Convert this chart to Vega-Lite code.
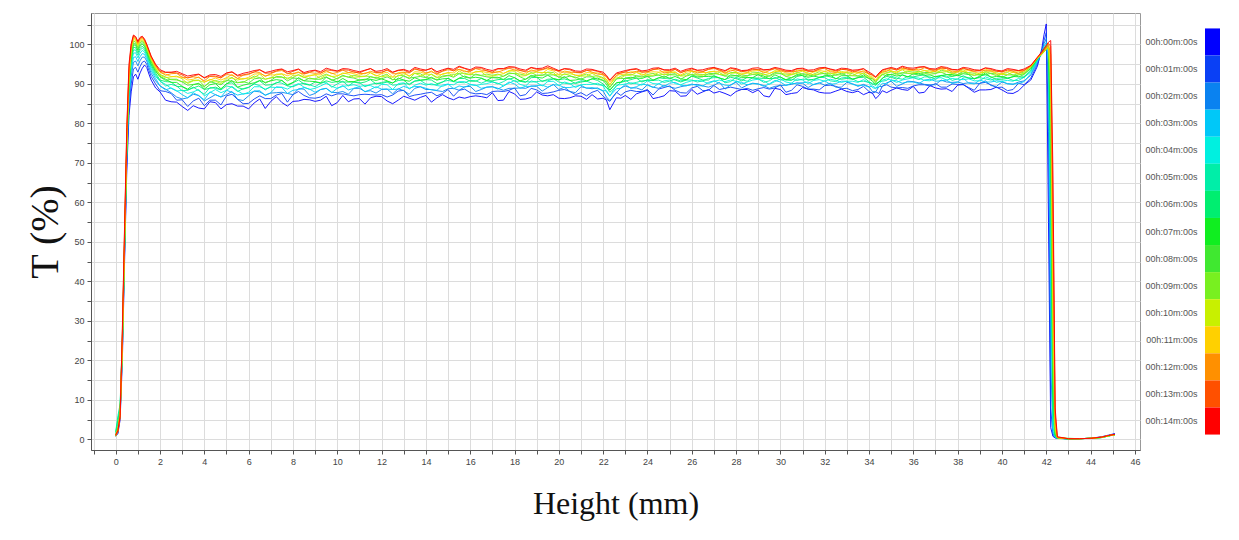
{
"$schema": "https://vega.github.io/schema/vega-lite/v6.json",
"background": "white",
"padding": {"left": 24, "top": 12, "right": 5, "bottom": 5},
"spacing": 3,
"config": {
  "view": {"stroke": "#999999", "strokeWidth": 1},
  "axis": {"labelFont": "Liberation Sans", "labelFontSize": 9, "labelColor": "#444444", "tickColor": "#555555", "domainColor": "#555555", "gridColor": "#dcdcdc", "titleFont": "Liberation Serif", "titleFontWeight": "normal", "titleColor": "#111111"}
},
"datasets": {
"curves": [
{"x":0,"t0":0.8,"t1":1.0,"t2":1.2,"t3":0.9,"t4":1.5,"t5":2.0,"t6":1.8,"t7":1.2,"t8":1.0,"t9":0.8,"t10":1.1,"t11":1.3,"t12":0.9,"t13":1.0,"t14":1.2},
{"x":0.1,"t0":1.5,"t1":1.8,"t2":2.2,"t3":2.5,"t4":4.0,"t5":6.0,"t6":5.0,"t7":3.0,"t8":2.4,"t9":2.0,"t10":2.5,"t11":2.8,"t12":2.2,"t13":2.0,"t14":2.3},
{"x":0.2,"t0":5,"t1":6,"t2":6.5,"t3":7,"t4":8,"t5":9,"t6":8.5,"t7":7.5,"t8":6.5,"t9":6,"t10":6.5,"t11":7,"t12":6,"t13":5.5,"t14":6},
{"x":0.3,"t0":20,"t1":22,"t2":23,"t3":24,"t4":25,"t5":26,"t6":25,"t7":24,"t8":23,"t9":22,"t10":24,"t11":25,"t12":26,"t13":27,"t14":28},
{"x":0.4,"t0":45,"t1":47,"t2":48,"t3":49,"t4":50,"t5":51,"t6":50,"t7":49,"t8":48,"t9":48,"t10":50,"t11":51,"t12":52,"t13":53,"t14":54},
{"x":0.5,"t0":68,"t1":70,"t2":72,"t3":73,"t4":74,"t5":75,"t6":75,"t7":74,"t8":74,"t9":74,"t10":75,"t11":76,"t12":77,"t13":78,"t14":79},
{"x":0.6,"t0":82,"t1":84,"t2":86,"t3":87,"t4":88,"t5":89,"t6":89.5,"t7":90,"t8":90.5,"t9":91,"t10":91.5,"t11":92,"t12":93,"t13":94,"t14":95},
{"x":0.7,"t0":88.0,"t1":90.0,"t2":92.0,"t3":93.3,"t4":94.5,"t5":95.5,"t6":96.3,"t7":97.0,"t8":97.6,"t9":98.2,"t10":98.7,"t11":99.2,"t12":99.6,"t13":99.9,"t14":100.2},
{"x":0.8,"t0":91.8,"t1":93.8,"t2":95.5,"t3":96.7,"t4":97.8,"t5":98.6,"t6":99.3,"t7":99.9,"t8":100.4,"t9":100.9,"t10":101.3,"t11":101.7,"t12":102.0,"t13":102.2,"t14":102.4},
{"x":0.9,"t0":92.5,"t1":94.2,"t2":95.8,"t3":96.9,"t4":97.9,"t5":98.6,"t6":99.2,"t7":99.8,"t8":100.2,"t9":100.6,"t10":101.0,"t11":101.3,"t12":101.6,"t13":101.9,"t14":102.0},
{"x":1.0,"t0":91.2,"t1":93.0,"t2":94.6,"t3":95.7,"t4":96.6,"t5":97.3,"t6":97.9,"t7":98.5,"t8":98.9,"t9":99.3,"t10":99.7,"t11":100.0,"t12":100.3,"t13":100.6,"t14":100.8},
{"x":1.1,"t0":92.8,"t1":94.4,"t2":95.9,"t3":96.9,"t4":97.8,"t5":98.5,"t6":99.0,"t7":99.6,"t8":100.0,"t9":100.4,"t10":100.8,"t11":101.1,"t12":101.4,"t13":101.6,"t14":101.8},
{"x":1.2,"t0":94.0,"t1":95.5,"t2":96.8,"t3":97.7,"t4":98.5,"t5":99.1,"t6":99.6,"t7":100.1,"t8":100.5,"t9":100.9,"t10":101.2,"t11":101.5,"t12":101.7,"t13":101.9,"t14":102.1},
{"x":1.3,"t0":94.8,"t1":95.8,"t2":96.8,"t3":97.5,"t4":98.1,"t5":98.6,"t6":99.0,"t7":99.5,"t8":99.8,"t9":100.2,"t10":100.5,"t11":100.8,"t12":101.0,"t13":101.2,"t14":101.4},
{"x":1.4,"t0":94.2,"t1":95.0,"t2":95.8,"t3":96.4,"t4":96.9,"t5":97.4,"t6":97.8,"t7":98.2,"t8":98.6,"t9":98.9,"t10":99.2,"t11":99.5,"t12":99.7,"t13":99.9,"t14":100.1},
{"x":1.5,"t0":92.5,"t1":93.4,"t2":94.2,"t3":94.8,"t4":95.4,"t5":95.8,"t6":96.3,"t7":96.7,"t8":97.0,"t9":97.4,"t10":97.7,"t11":97.9,"t12":98.2,"t13":98.4,"t14":98.6},
{"x":1.6,"t0":91.0,"t1":91.9,"t2":92.7,"t3":93.4,"t4":93.9,"t5":94.4,"t6":94.8,"t7":95.2,"t8":95.6,"t9":95.9,"t10":96.2,"t11":96.5,"t12":96.7,"t13":96.9,"t14":97.1},
{"x":1.8,"t0":89.0,"t1":90.0,"t2":90.8,"t3":91.4,"t4":91.9,"t5":92.3,"t6":92.8,"t7":93.2,"t8":93.5,"t9":93.8,"t10":94.1,"t11":94.3,"t12":94.6,"t13":94.8,"t14":95.0},
{"x":2.0,"t0":88.0,"t1":88.3,"t2":89.5,"t3":89.5,"t4":90.7,"t5":90.8,"t6":91.0,"t7":91.9,"t8":91.8,"t9":92.4,"t10":92.2,"t11":92.9,"t12":93.1,"t13":93.2,"t14":93.6},
{"x":2.5,"t0":85.5,"t1":87.6,"t2":87.8,"t3":89.0,"t4":88.9,"t5":89.9,"t6":90.5,"t7":90.4,"t8":91.2,"t9":91.1,"t10":91.8,"t11":91.9,"t12":92.6,"t13":92.9,"t14":93.0},
{"x":3.0,"t0":84.3,"t1":86.0,"t2":86.2,"t3":87.3,"t4":88.4,"t5":88.3,"t6":89.3,"t7":89.4,"t8":90.5,"t9":90.6,"t10":91.3,"t11":91.7,"t12":91.7,"t13":92.3,"t14":92.6},
{"x":3.5,"t0":84.5,"t1":85.7,"t2":87.4,"t3":87.8,"t4":88.0,"t5":89.2,"t6":89.0,"t7":89.8,"t8":89.9,"t9":90.9,"t10":90.8,"t11":91.2,"t12":91.8,"t13":92.0,"t14":92.3},
{"x":4.0,"t0":83.7,"t1":84.5,"t2":85.7,"t3":86.0,"t4":87.0,"t5":87.4,"t6":88.6,"t7":88.7,"t8":89.3,"t9":89.4,"t10":90.4,"t11":90.5,"t12":90.8,"t13":91.5,"t14":91.6},
{"x":4.5,"t0":85.3,"t1":85.9,"t2":87.3,"t3":87.3,"t4":88.6,"t5":88.9,"t6":89.2,"t7":90.1,"t8":90.2,"t9":90.9,"t10":90.7,"t11":91.5,"t12":91.8,"t13":92.0,"t14":92.4},
{"x":5.0,"t0":84.8,"t1":87.0,"t2":87.3,"t3":88.4,"t4":88.4,"t5":89.5,"t6":90.1,"t7":90.0,"t8":90.9,"t9":90.8,"t10":91.5,"t11":91.6,"t12":92.4,"t13":92.7,"t14":92.8},
{"x":5.5,"t0":84.4,"t1":86.1,"t2":86.1,"t3":87.2,"t4":88.3,"t5":88.1,"t6":89.1,"t7":89.2,"t8":90.3,"t9":90.4,"t10":91.0,"t11":91.4,"t12":91.4,"t13":92.0,"t14":92.2},
{"x":6.0,"t0":83.7,"t1":85.1,"t2":87.0,"t3":87.6,"t4":87.9,"t5":89.2,"t6":89.1,"t7":90.0,"t8":90.2,"t9":91.2,"t10":91.3,"t11":91.7,"t12":92.4,"t13":92.6,"t14":93.0},
{"x":6.5,"t0":86.2,"t1":87.0,"t2":88.0,"t3":88.3,"t4":89.3,"t5":89.6,"t6":90.8,"t7":90.9,"t8":91.5,"t9":91.6,"t10":92.5,"t11":92.6,"t12":92.9,"t13":93.6,"t14":93.6},
{"x":7.0,"t0":85.6,"t1":86.3,"t2":87.7,"t3":87.8,"t4":89.2,"t5":89.4,"t6":89.8,"t7":90.8,"t8":90.9,"t9":91.6,"t10":91.5,"t11":92.3,"t12":92.6,"t13":92.8,"t14":93.2},
{"x":7.5,"t0":85.3,"t1":87.6,"t2":87.9,"t3":89.1,"t4":89.2,"t5":90.2,"t6":90.9,"t7":90.9,"t8":91.8,"t9":91.7,"t10":92.5,"t11":92.6,"t12":93.4,"t13":93.7,"t14":93.8},
{"x":8.0,"t0":85.6,"t1":87.3,"t2":87.3,"t3":88.4,"t4":89.5,"t5":89.3,"t6":90.3,"t7":90.4,"t8":91.5,"t9":91.6,"t10":92.2,"t11":92.6,"t12":92.6,"t13":93.2,"t14":93.4},
{"x":8.5,"t0":86.1,"t1":87.1,"t2":88.7,"t3":89.1,"t4":89.2,"t5":90.2,"t6":90.0,"t7":90.8,"t8":90.8,"t9":91.7,"t10":91.6,"t11":92.0,"t12":92.5,"t13":92.6,"t14":92.9},
{"x":9.0,"t0":85.6,"t1":86.4,"t2":87.6,"t3":87.9,"t4":88.9,"t5":89.3,"t6":90.5,"t7":90.6,"t8":91.2,"t9":91.3,"t10":92.3,"t11":92.4,"t12":92.7,"t13":93.4,"t14":93.5},
{"x":9.5,"t0":86.9,"t1":87.5,"t2":88.9,"t3":88.9,"t4":90.2,"t5":90.5,"t6":90.8,"t7":91.7,"t8":91.8,"t9":92.5,"t10":92.3,"t11":93.1,"t12":93.4,"t13":93.6,"t14":94.0},
{"x":10.0,"t0":85.3,"t1":87.5,"t2":87.8,"t3":88.9,"t4":88.9,"t5":90.0,"t6":90.6,"t7":90.5,"t8":91.4,"t9":91.3,"t10":92.0,"t11":92.1,"t12":92.9,"t13":93.2,"t14":93.3},
{"x":10.5,"t0":85.5,"t1":87.2,"t2":87.4,"t3":88.5,"t4":89.6,"t5":89.5,"t6":90.5,"t7":90.6,"t8":91.7,"t9":91.8,"t10":92.5,"t11":92.9,"t12":92.9,"t13":93.5,"t14":93.8},
{"x":11.0,"t0":86.3,"t1":87.3,"t2":88.9,"t3":89.3,"t4":89.4,"t5":90.4,"t6":90.2,"t7":91.0,"t8":91.0,"t9":91.9,"t10":91.8,"t11":92.2,"t12":92.7,"t13":92.8,"t14":93.1},
{"x":11.5,"t0":86.5,"t1":87.3,"t2":88.3,"t3":88.6,"t4":89.6,"t5":89.9,"t6":91.1,"t7":91.2,"t8":91.8,"t9":91.9,"t10":92.8,"t11":92.9,"t12":93.2,"t13":93.9,"t14":93.9},
{"x":12.0,"t0":86.8,"t1":87.3,"t2":88.6,"t3":88.7,"t4":89.9,"t5":90.1,"t6":90.4,"t7":91.3,"t8":91.3,"t9":92.0,"t10":91.8,"t11":92.6,"t12":92.8,"t13":93.0,"t14":93.4},
{"x":12.5,"t0":85.0,"t1":87.2,"t2":87.5,"t3":88.6,"t4":88.6,"t5":89.7,"t6":90.3,"t7":90.2,"t8":91.1,"t9":91.0,"t10":91.7,"t11":91.8,"t12":92.6,"t13":92.9,"t14":93.0},
{"x":13.0,"t0":86.9,"t1":88.4,"t2":88.3,"t3":89.4,"t4":90.3,"t5":90.1,"t6":91.0,"t7":91.0,"t8":92.0,"t9":92.1,"t10":92.6,"t11":93.0,"t12":92.9,"t13":93.5,"t14":93.7},
{"x":13.5,"t0":85.9,"t1":87.2,"t2":88.9,"t3":89.4,"t4":89.7,"t5":90.8,"t6":90.7,"t7":91.6,"t8":91.7,"t9":92.7,"t10":92.7,"t11":93.1,"t12":93.7,"t13":93.9,"t14":94.2},
{"x":14.0,"t0":87.1,"t1":87.7,"t2":88.6,"t3":88.9,"t4":89.7,"t5":90.0,"t6":91.1,"t7":91.1,"t8":91.6,"t9":91.7,"t10":92.5,"t11":92.6,"t12":92.8,"t13":93.5,"t14":93.5},
{"x":14.5,"t0":86.5,"t1":87.0,"t2":88.3,"t3":88.4,"t4":89.6,"t5":89.8,"t6":90.1,"t7":91.0,"t8":91.0,"t9":91.7,"t10":91.5,"t11":92.3,"t12":92.5,"t13":92.7,"t14":93.1},
{"x":15.0,"t0":86.5,"t1":88.6,"t2":88.8,"t3":90.0,"t4":89.9,"t5":90.9,"t6":91.5,"t7":91.4,"t8":92.2,"t9":92.1,"t10":92.8,"t11":92.9,"t12":93.6,"t13":93.9,"t14":94.0},
{"x":15.5,"t0":86.7,"t1":88.4,"t2":88.4,"t3":89.5,"t4":90.6,"t5":90.4,"t6":91.4,"t7":91.5,"t8":92.6,"t9":92.7,"t10":93.3,"t11":93.7,"t12":93.7,"t13":94.3,"t14":94.5},
{"x":16.0,"t0":86.8,"t1":87.8,"t2":89.4,"t3":89.8,"t4":89.9,"t5":90.9,"t6":90.7,"t7":91.5,"t8":91.5,"t9":92.4,"t10":92.3,"t11":92.7,"t12":93.2,"t13":93.3,"t14":93.6},
{"x":16.5,"t0":86.8,"t1":87.6,"t2":88.6,"t3":88.9,"t4":89.9,"t5":90.2,"t6":91.4,"t7":91.5,"t8":92.1,"t9":92.2,"t10":93.1,"t11":93.2,"t12":93.5,"t13":94.0,"t14":94.2},
{"x":17.0,"t0":87.8,"t1":88.1,"t2":89.3,"t3":89.3,"t4":90.5,"t5":90.6,"t6":90.8,"t7":91.7,"t8":91.6,"t9":92.2,"t10":92.0,"t11":92.7,"t12":92.9,"t13":93.0,"t14":93.4},
{"x":17.5,"t0":85.9,"t1":88.1,"t2":88.4,"t3":89.5,"t4":89.5,"t5":90.6,"t6":91.2,"t7":91.1,"t8":92.0,"t9":91.9,"t10":92.6,"t11":92.7,"t12":93.5,"t13":93.8,"t14":93.9},
{"x":18.0,"t0":87.5,"t1":89.0,"t2":88.9,"t3":90.0,"t4":90.9,"t5":90.7,"t6":91.6,"t7":91.6,"t8":92.6,"t9":92.7,"t10":93.2,"t11":93.6,"t12":93.5,"t13":94.1,"t14":94.3},
{"x":18.5,"t0":86.2,"t1":87.3,"t2":88.9,"t3":89.4,"t4":89.5,"t5":90.6,"t6":90.4,"t7":91.2,"t8":91.2,"t9":92.2,"t10":92.1,"t11":92.5,"t12":93.0,"t13":93.2,"t14":93.5},
{"x":19.0,"t0":88.0,"t1":88.5,"t2":89.4,"t3":89.6,"t4":90.4,"t5":90.6,"t6":91.7,"t7":91.7,"t8":92.2,"t9":92.2,"t10":93.0,"t11":93.1,"t12":93.3,"t13":93.7,"t14":93.9},
{"x":19.5,"t0":87.0,"t1":87.7,"t2":89.1,"t3":89.2,"t4":90.6,"t5":90.8,"t6":91.2,"t7":92.2,"t8":92.3,"t9":93.0,"t10":92.9,"t11":93.7,"t12":94.0,"t13":94.2,"t14":94.6},
{"x":20.0,"t0":86.4,"t1":88.4,"t2":88.6,"t3":89.7,"t4":89.6,"t5":90.5,"t6":91.1,"t7":91.0,"t8":91.8,"t9":91.6,"t10":92.3,"t11":92.4,"t12":93.1,"t13":93.3,"t14":93.4},
{"x":20.5,"t0":86.5,"t1":88.1,"t2":88.1,"t3":89.1,"t4":90.1,"t5":90.0,"t6":90.9,"t7":90.9,"t8":92.0,"t9":92.1,"t10":92.6,"t11":93.0,"t12":93.0,"t13":93.6,"t14":93.8},
{"x":21.0,"t0":86.9,"t1":87.8,"t2":89.3,"t3":89.7,"t4":89.8,"t5":90.8,"t6":90.5,"t7":91.3,"t8":91.2,"t9":92.1,"t10":92.0,"t11":92.3,"t12":92.8,"t13":92.9,"t14":93.2},
{"x":21.5,"t0":87.3,"t1":87.9,"t2":88.8,"t3":89.1,"t4":89.9,"t5":90.2,"t6":91.3,"t7":91.3,"t8":91.8,"t9":91.9,"t10":92.7,"t11":92.8,"t12":93.0,"t13":93.5,"t14":93.7},
{"x":22.0,"t0":86.4,"t1":86.9,"t2":88.2,"t3":88.3,"t4":89.5,"t5":89.7,"t6":90.0,"t7":90.9,"t8":90.9,"t9":91.6,"t10":91.4,"t11":92.2,"t12":92.4,"t13":92.6,"t14":93.0},
{"x":22.3,"t0":83.5,"t1":85.6,"t2":85.8,"t3":87.0,"t4":86.9,"t5":87.9,"t6":88.5,"t7":88.4,"t8":89.2,"t9":89.1,"t10":89.8,"t11":89.9,"t12":90.6,"t13":90.9,"t14":91.0},
{"x":22.6,"t0":86.5,"t1":87.9,"t2":87.8,"t3":88.8,"t4":89.7,"t5":89.4,"t6":90.3,"t7":90.3,"t8":91.3,"t9":91.3,"t10":91.8,"t11":92.2,"t12":92.1,"t13":92.6,"t14":92.8},
{"x":23.0,"t0":87.1,"t1":88.0,"t2":89.5,"t3":89.9,"t4":90.0,"t5":91.0,"t6":90.7,"t7":91.5,"t8":91.4,"t9":92.3,"t10":92.2,"t11":92.5,"t12":93.0,"t13":93.1,"t14":93.4},
{"x":23.5,"t0":87.5,"t1":88.1,"t2":89.0,"t3":89.3,"t4":90.1,"t5":90.4,"t6":91.5,"t7":91.5,"t8":92.0,"t9":92.1,"t10":92.9,"t11":93.0,"t12":93.2,"t13":93.7,"t14":93.9},
{"x":24.0,"t0":88.4,"t1":88.6,"t2":89.8,"t3":89.7,"t4":90.8,"t5":90.9,"t6":91.1,"t7":91.9,"t8":91.9,"t9":92.4,"t10":92.2,"t11":92.9,"t12":93.1,"t13":93.1,"t14":93.5},
{"x":24.5,"t0":86.6,"t1":88.7,"t2":88.9,"t3":90.1,"t4":90.0,"t5":91.0,"t6":91.6,"t7":91.5,"t8":92.3,"t9":92.2,"t10":92.9,"t11":93.0,"t12":93.7,"t13":94.0,"t14":94.1},
{"x":25.0,"t0":88.3,"t1":89.5,"t2":89.3,"t3":90.2,"t4":91.0,"t5":90.7,"t6":91.5,"t7":91.4,"t8":92.4,"t9":92.3,"t10":92.8,"t11":93.1,"t12":93.0,"t13":93.4,"t14":93.6},
{"x":25.5,"t0":86.9,"t1":87.8,"t2":89.3,"t3":89.7,"t4":89.8,"t5":90.8,"t6":90.5,"t7":91.3,"t8":91.2,"t9":92.1,"t10":92.0,"t11":92.3,"t12":92.8,"t13":92.9,"t14":93.2},
{"x":26.0,"t0":88.6,"t1":89.0,"t2":89.8,"t3":90.0,"t4":90.8,"t5":91.0,"t6":92.0,"t7":92.0,"t8":92.4,"t9":92.4,"t10":93.2,"t11":93.2,"t12":93.4,"t13":93.8,"t14":94.0},
{"x":26.5,"t0":88.0,"t1":88.3,"t2":89.5,"t3":89.5,"t4":90.7,"t5":90.8,"t6":91.0,"t7":91.9,"t8":91.8,"t9":92.4,"t10":92.2,"t11":92.9,"t12":93.1,"t13":93.2,"t14":93.6},
{"x":27.0,"t0":87.7,"t1":89.6,"t2":89.7,"t3":90.8,"t4":90.7,"t5":91.6,"t6":92.1,"t7":92.0,"t8":92.7,"t9":92.5,"t10":93.2,"t11":93.2,"t12":93.9,"t13":94.1,"t14":94.2},
{"x":27.5,"t0":87.6,"t1":88.9,"t2":88.7,"t3":89.7,"t4":90.6,"t5":90.3,"t6":91.1,"t7":91.1,"t8":92.0,"t9":92.0,"t10":92.5,"t11":92.8,"t12":92.7,"t13":93.2,"t14":93.4},
{"x":28.0,"t0":88.1,"t1":88.9,"t2":90.4,"t3":90.7,"t4":90.7,"t5":91.7,"t6":91.4,"t7":92.1,"t8":92.1,"t9":92.9,"t10":92.8,"t11":93.1,"t12":93.6,"t13":93.6,"t14":93.9},
{"x":28.5,"t0":88.6,"t1":88.9,"t2":89.7,"t3":89.8,"t4":90.5,"t5":90.7,"t6":91.7,"t7":91.6,"t8":92.1,"t9":92.0,"t10":92.8,"t11":92.8,"t12":93.0,"t13":93.4,"t14":93.5},
{"x":29.0,"t0":88.5,"t1":88.8,"t2":90.0,"t3":90.0,"t4":91.2,"t5":91.3,"t6":91.5,"t7":92.4,"t8":92.3,"t9":92.9,"t10":92.7,"t11":93.4,"t12":93.6,"t13":93.7,"t14":94.1},
{"x":29.5,"t0":86.7,"t1":88.7,"t2":88.9,"t3":90.0,"t4":89.9,"t5":90.8,"t6":91.4,"t7":91.3,"t8":92.1,"t9":91.9,"t10":92.6,"t11":92.7,"t12":93.4,"t13":93.6,"t14":93.7},
{"x":30.0,"t0":88.6,"t1":89.8,"t2":89.6,"t3":90.5,"t4":91.3,"t5":91.0,"t6":91.8,"t7":91.7,"t8":92.7,"t9":92.6,"t10":93.1,"t11":93.4,"t12":93.3,"t13":93.7,"t14":93.9},
{"x":30.5,"t0":87.6,"t1":88.4,"t2":89.9,"t3":90.2,"t4":90.2,"t5":91.2,"t6":90.9,"t7":91.6,"t8":91.6,"t9":92.4,"t10":92.3,"t11":92.6,"t12":93.1,"t13":93.1,"t14":93.4},
{"x":31.0,"t0":89.1,"t1":89.4,"t2":90.2,"t3":90.3,"t4":91.0,"t5":91.2,"t6":92.2,"t7":92.1,"t8":92.6,"t9":92.5,"t10":93.3,"t11":93.3,"t12":93.5,"t13":93.8,"t14":94.0},
{"x":31.5,"t0":88.5,"t1":88.7,"t2":89.9,"t3":89.8,"t4":90.9,"t5":91.0,"t6":91.2,"t7":92.0,"t8":92.0,"t9":92.5,"t10":92.3,"t11":93.0,"t12":93.2,"t13":93.2,"t14":93.6},
{"x":32.0,"t0":87.7,"t1":89.6,"t2":89.7,"t3":90.8,"t4":90.7,"t5":91.6,"t6":92.1,"t7":92.0,"t8":92.7,"t9":92.5,"t10":93.2,"t11":93.2,"t12":93.9,"t13":94.1,"t14":94.2},
{"x":32.5,"t0":88.2,"t1":89.4,"t2":89.2,"t3":90.1,"t4":90.9,"t5":90.6,"t6":91.4,"t7":91.3,"t8":92.3,"t9":92.2,"t10":92.7,"t11":93.0,"t12":92.9,"t13":93.3,"t14":93.5},
{"x":33.0,"t0":88.1,"t1":88.9,"t2":90.4,"t3":90.7,"t4":90.7,"t5":91.7,"t6":91.4,"t7":92.1,"t8":92.1,"t9":92.9,"t10":92.8,"t11":93.1,"t12":93.6,"t13":93.6,"t14":93.9},
{"x":33.5,"t0":88.2,"t1":88.6,"t2":89.4,"t3":89.6,"t4":90.4,"t5":90.6,"t6":91.6,"t7":91.6,"t8":92.0,"t9":92.0,"t10":92.8,"t11":92.8,"t12":93.0,"t13":93.4,"t14":93.6},
{"x":34.0,"t0":87.9,"t1":88.1,"t2":89.3,"t3":89.2,"t4":90.3,"t5":90.4,"t6":90.6,"t7":91.4,"t8":91.4,"t9":91.9,"t10":91.7,"t11":92.4,"t12":92.6,"t13":92.6,"t14":93.0},
{"x":34.3,"t0":86.3,"t1":88.0,"t2":88.0,"t3":89.0,"t4":88.8,"t5":89.6,"t6":90.1,"t7":89.9,"t8":90.6,"t9":90.3,"t10":91.0,"t11":90.9,"t12":91.6,"t13":91.7,"t14":91.8},
{"x":34.6,"t0":88.3,"t1":89.5,"t2":89.3,"t3":90.2,"t4":91.0,"t5":90.7,"t6":91.5,"t7":91.4,"t8":92.4,"t9":92.3,"t10":92.8,"t11":93.1,"t12":93.0,"t13":93.4,"t14":93.6},
{"x":35.0,"t0":88.4,"t1":89.2,"t2":90.7,"t3":91.0,"t4":91.0,"t5":92.0,"t6":91.7,"t7":92.4,"t8":92.4,"t9":93.2,"t10":93.1,"t11":93.4,"t12":93.9,"t13":93.9,"t14":94.2},
{"x":35.5,"t0":88.6,"t1":89.1,"t2":90.0,"t3":90.2,"t4":91.0,"t5":91.2,"t6":92.3,"t7":92.3,"t8":92.8,"t9":92.8,"t10":93.6,"t11":93.7,"t12":93.9,"t13":94.3,"t14":94.5},
{"x":36.0,"t0":89.4,"t1":89.5,"t2":90.6,"t3":90.5,"t4":91.6,"t5":91.6,"t6":91.8,"t7":92.6,"t8":92.5,"t9":93.0,"t10":92.8,"t11":93.4,"t12":93.6,"t13":93.6,"t14":94.0},
{"x":36.5,"t0":87.9,"t1":89.8,"t2":89.9,"t3":91.0,"t4":90.9,"t5":91.8,"t6":92.3,"t7":92.2,"t8":92.9,"t9":92.7,"t10":93.4,"t11":93.4,"t12":94.1,"t13":94.3,"t14":94.4},
{"x":37.0,"t0":89.0,"t1":90.1,"t2":89.8,"t3":90.7,"t4":91.5,"t5":91.1,"t6":91.9,"t7":91.8,"t8":92.7,"t9":92.6,"t10":93.1,"t11":93.3,"t12":93.2,"t13":93.6,"t14":93.8},
{"x":37.5,"t0":88.8,"t1":89.2,"t2":90.5,"t3":91.0,"t4":91.0,"t5":92.0,"t6":91.7,"t7":92.4,"t8":92.4,"t9":93.2,"t10":93.1,"t11":93.4,"t12":93.9,"t13":93.9,"t14":94.2},
{"x":38.0,"t0":89.7,"t1":89.9,"t2":90.5,"t3":90.5,"t4":91.2,"t5":91.3,"t6":92.2,"t7":92.1,"t8":92.4,"t9":92.4,"t10":93.1,"t11":93.0,"t12":93.1,"t13":93.5,"t14":93.6},
{"x":38.5,"t0":88.9,"t1":89.1,"t2":90.3,"t3":90.2,"t4":91.3,"t5":91.4,"t6":91.6,"t7":92.4,"t8":92.4,"t9":92.9,"t10":92.7,"t11":93.4,"t12":93.6,"t13":93.6,"t14":94.0},
{"x":39.0,"t0":88.5,"t1":90.2,"t2":90.1,"t3":91.0,"t4":90.8,"t5":91.6,"t6":92.0,"t7":91.8,"t8":92.4,"t9":92.2,"t10":92.8,"t11":92.7,"t12":93.3,"t13":93.4,"t14":93.5},
{"x":39.5,"t0":88.6,"t1":89.8,"t2":89.6,"t3":90.5,"t4":91.3,"t5":91.0,"t6":91.8,"t7":91.7,"t8":92.7,"t9":92.6,"t10":93.1,"t11":93.4,"t12":93.3,"t13":93.7,"t14":93.9},
{"x":40.0,"t0":88.5,"t1":89.2,"t2":90.5,"t3":90.7,"t4":90.7,"t5":91.6,"t6":91.2,"t7":91.9,"t8":91.7,"t9":92.6,"t10":92.4,"t11":92.6,"t12":93.0,"t13":93.1,"t14":93.3},
{"x":40.5,"t0":87.6,"t1":88.6,"t2":89.9,"t3":90.0,"t4":90.7,"t5":90.9,"t6":91.9,"t7":91.8,"t8":92.3,"t9":92.2,"t10":93.0,"t11":93.0,"t12":93.2,"t13":93.5,"t14":93.7},
{"x":41.0,"t0":89.7,"t1":89.8,"t2":90.8,"t3":90.6,"t4":91.7,"t5":91.7,"t6":91.8,"t7":92.6,"t8":92.4,"t9":93.0,"t10":92.7,"t11":93.3,"t12":93.4,"t13":93.5,"t14":93.8},
{"x":41.3,"t0":91.0,"t1":91.5,"t2":92.2,"t3":92.6,"t4":93.0,"t5":93.3,"t6":93.6,"t7":93.9,"t8":94.1,"t9":94.3,"t10":94.4,"t11":94.5,"t12":94.6,"t13":94.6,"t14":94.7},
{"x":41.6,"t0":94.5,"t1":95.0,"t2":95.5,"t3":95.8,"t4":96.0,"t5":96.2,"t6":96.3,"t7":96.4,"t8":96.5,"t9":96.5,"t10":96.5,"t11":96.6,"t12":96.6,"t13":96.7,"t14":96.8},
{"x":41.8,"t0":99.0,"t1":98.5,"t2":98.2,"t3":98.0,"t4":97.8,"t5":97.7,"t6":97.6,"t7":97.5,"t8":97.5,"t9":97.5,"t10":97.6,"t11":97.7,"t12":97.8,"t13":98.0,"t14":98.2},
{"x":41.9,"t0":102.5,"t1":101.0,"t2":100.2,"t3":99.6,"t4":99.2,"t5":98.9,"t6":98.6,"t7":98.4,"t8":98.2,"t9":98.1,"t10":98.2,"t11":98.3,"t12":98.5,"t13":98.8,"t14":99.0},
{"x":42.0,"t0":105.2,"t1":103.0,"t2":101.5,"t3":100.5,"t4":100.0,"t5":99.6,"t6":99.3,"t7":99.0,"t8":98.8,"t9":98.7,"t10":98.7,"t11":98.9,"t12":99.2,"t13":99.5,"t14":99.8},
{"x":42.1,"t0":55,"t1":78,"t2":90,"t3":96,"t4":98.5,"t5":99.5,"t6":99.6,"t7":99.5,"t8":99.4,"t9":99.4,"t10":99.5,"t11":99.7,"t12":100.0,"t13":100.3,"t14":100.6},
{"x":42.2,"t0":3,"t1":8,"t2":20,"t3":35,"t4":50,"t5":62,"t6":70,"t7":78,"t8":84,"t9":88,"t10":92,"t11":95,"t12":97.5,"t13":99.5,"t14":101.0},
{"x":42.3,"t0":0.8,"t1":1.0,"t2":1.5,"t3":2.0,"t4":3.0,"t5":5.0,"t6":8,"t7":12,"t8":16,"t9":22,"t10":30,"t11":40,"t12":50,"t13":60,"t14":68},
{"x":42.4,"t0":0.4,"t1":0.5,"t2":0.5,"t3":0.6,"t4":0.7,"t5":0.8,"t6":1.0,"t7":1.2,"t8":1.5,"t9":2.0,"t10":2.5,"t11":3.5,"t12":5,"t13":6.5,"t14":8},
{"x":42.5,"t0":0.3,"t1":0.3,"t2":0.3,"t3":0.3,"t4":0.3,"t5":0.3,"t6":0.3,"t7":0.4,"t8":0.4,"t9":0.4,"t10":0.4,"t11":0.5,"t12":0.5,"t13":0.6,"t14":0.7},
{"x":43.0,"t0":0.2,"t1":0.2,"t2":0.1,"t3":0.2,"t4":0.3,"t5":0.2,"t6":0.2,"t7":0.1,"t8":0.2,"t9":0.2,"t10":0.3,"t11":0.2,"t12":0.2,"t13":0.2,"t14":0.2},
{"x":43.5,"t0":0.2,"t1":0.2,"t2":0.2,"t3":0.2,"t4":0.2,"t5":0.2,"t6":0.2,"t7":0.2,"t8":0.2,"t9":0.2,"t10":0.2,"t11":0.2,"t12":0.2,"t13":0.2,"t14":0.2},
{"x":44.0,"t0":0.3,"t1":0.3,"t2":0.3,"t3":0.3,"t4":0.3,"t5":0.3,"t6":0.3,"t7":0.3,"t8":0.3,"t9":0.3,"t10":0.3,"t11":0.3,"t12":0.3,"t13":0.3,"t14":0.3},
{"x":44.5,"t0":0.7,"t1":0.6,"t2":0.6,"t3":0.5,"t4":0.5,"t5":0.5,"t6":0.5,"t7":0.5,"t8":0.5,"t9":0.5,"t10":0.5,"t11":0.6,"t12":0.6,"t13":0.6,"t14":0.6},
{"x":44.8,"t0":1.1,"t1":1.0,"t2":1.0,"t3":0.9,"t4":0.9,"t5":0.9,"t6":0.9,"t7":0.9,"t8":0.9,"t9":0.9,"t10":0.9,"t11":1.0,"t12":1.0,"t13":1.0,"t14":1.0},
{"x":45.1,"t0":1.5,"t1":1.4,"t2":1.3,"t3":1.3,"t4":1.2,"t5":1.2,"t6":1.2,"t7":1.2,"t8":1.2,"t9":1.2,"t10":1.2,"t11":1.2,"t12":1.3,"t13":1.3,"t14":1.3},
{"x":2.25,"t0":85.9,"t1":88.1,"t2":88.7,"t3":88.5,"t4":89.9,"t5":89.5,"t6":90.6,"t7":91.2,"t8":90.9,"t9":91.8,"t10":91.6,"t11":92.5,"t12":92.2,"t13":92.9,"t14":93.0},
{"x":2.75,"t0":85.4,"t1":85.9,"t2":86.7,"t3":88.3,"t4":88.2,"t5":89.5,"t6":89.4,"t7":90.4,"t8":91.2,"t9":91.0,"t10":92.0,"t11":91.8,"t12":92.7,"t13":92.8,"t14":93.2},
{"x":3.25,"t0":83.3,"t1":84.3,"t2":86.5,"t3":86.5,"t4":87.6,"t5":88.4,"t6":88.5,"t7":88.7,"t8":89.7,"t9":90.4,"t10":90.1,"t11":91.0,"t12":91.6,"t13":91.5,"t14":92.0},
{"x":3.75,"t0":83.9,"t1":86.4,"t2":87.1,"t3":87.0,"t4":88.6,"t5":88.3,"t6":89.5,"t7":90.2,"t8":90.0,"t9":91.0,"t10":90.9,"t11":91.8,"t12":91.6,"t13":92.4,"t14":92.5},
{"x":4.25,"t0":85.5,"t1":85.9,"t2":86.5,"t3":88.0,"t4":87.8,"t5":89.1,"t6":88.9,"t7":89.8,"t8":90.6,"t9":90.4,"t10":91.2,"t11":91.0,"t12":91.9,"t13":92.0,"t14":92.3},
{"x":4.75,"t0":83.7,"t1":84.7,"t2":86.7,"t3":86.7,"t4":87.8,"t5":88.5,"t6":88.6,"t7":88.8,"t8":89.8,"t9":90.5,"t10":90.1,"t11":91.0,"t12":91.6,"t13":91.5,"t14":91.9},
{"x":5.25,"t0":85.0,"t1":87.4,"t2":88.1,"t3":87.9,"t4":89.4,"t5":89.2,"t6":90.3,"t7":90.9,"t8":90.7,"t9":91.7,"t10":91.5,"t11":92.4,"t12":92.2,"t13":93.0,"t14":93.1},
{"x":5.75,"t0":84.4,"t1":85.0,"t2":85.8,"t3":87.5,"t4":87.4,"t5":88.8,"t6":88.7,"t7":89.7,"t8":90.6,"t9":90.4,"t10":91.4,"t11":91.2,"t12":92.2,"t13":92.3,"t14":92.7},
{"x":6.25,"t0":85.2,"t1":86.2,"t2":88.2,"t3":88.2,"t4":89.3,"t5":90.0,"t6":90.1,"t7":90.3,"t8":91.3,"t9":92.0,"t10":91.6,"t11":92.5,"t12":93.1,"t13":93.0,"t14":93.4},
{"x":6.75,"t0":83.8,"t1":86.3,"t2":87.2,"t3":87.1,"t4":88.7,"t5":88.5,"t6":89.7,"t7":90.4,"t8":90.2,"t9":91.2,"t10":91.2,"t11":92.1,"t12":91.9,"t13":92.7,"t14":92.9},
{"x":7.25,"t0":86.8,"t1":87.2,"t2":87.8,"t3":89.3,"t4":89.1,"t5":90.4,"t6":90.2,"t7":91.1,"t8":91.9,"t9":91.7,"t10":92.5,"t11":92.3,"t12":93.2,"t13":93.3,"t14":93.6},
{"x":7.75,"t0":84.4,"t1":85.4,"t2":87.6,"t3":87.6,"t4":88.7,"t5":89.5,"t6":89.6,"t7":89.8,"t8":90.8,"t9":91.5,"t10":91.2,"t11":92.1,"t12":92.7,"t13":92.6,"t14":93.1},
{"x":8.25,"t0":85.7,"t1":88.1,"t2":88.8,"t3":88.6,"t4":90.1,"t5":89.9,"t6":91.0,"t7":91.6,"t8":91.4,"t9":92.4,"t10":92.2,"t11":93.1,"t12":92.9,"t13":93.7,"t14":93.8},
{"x":8.75,"t0":86.0,"t1":86.5,"t2":87.1,"t3":88.7,"t4":88.6,"t5":89.8,"t6":89.7,"t7":90.7,"t8":91.5,"t9":91.3,"t10":92.2,"t11":92.0,"t12":92.9,"t13":93.0,"t14":93.3},
{"x":9.25,"t0":85.9,"t1":86.7,"t2":88.6,"t3":88.6,"t4":89.5,"t5":90.2,"t6":90.2,"t7":90.3,"t8":91.2,"t9":91.9,"t10":91.4,"t11":92.3,"t12":92.8,"t13":92.7,"t14":93.1},
{"x":9.75,"t0":84.5,"t1":87.0,"t2":87.9,"t3":87.8,"t4":89.4,"t5":89.2,"t6":90.4,"t7":91.1,"t8":90.9,"t9":91.9,"t10":91.9,"t11":92.8,"t12":92.6,"t13":93.4,"t14":93.6},
{"x":10.25,"t0":87.1,"t1":87.5,"t2":88.1,"t3":89.6,"t4":89.4,"t5":90.7,"t6":90.5,"t7":91.4,"t8":92.2,"t9":92.0,"t10":92.8,"t11":92.6,"t12":93.5,"t13":93.6,"t14":93.9},
{"x":10.75,"t0":86.2,"t1":87.0,"t2":88.9,"t3":88.9,"t4":89.8,"t5":90.5,"t6":90.5,"t7":90.6,"t8":91.5,"t9":92.2,"t10":91.7,"t11":92.6,"t12":93.1,"t13":93.0,"t14":93.4},
{"x":11.25,"t0":84.9,"t1":87.4,"t2":88.1,"t3":88.0,"t4":89.6,"t5":89.3,"t6":90.5,"t7":91.2,"t8":91.0,"t9":92.0,"t10":91.9,"t11":92.8,"t12":92.6,"t13":93.4,"t14":93.5},
{"x":11.75,"t0":86.9,"t1":87.2,"t2":87.7,"t3":89.3,"t4":89.0,"t5":90.2,"t6":90.0,"t7":90.9,"t8":91.6,"t9":91.4,"t10":92.2,"t11":92.0,"t12":92.8,"t13":92.9,"t14":93.2},
{"x":12.25,"t0":85.7,"t1":86.7,"t2":88.7,"t3":88.7,"t4":89.8,"t5":90.5,"t6":90.6,"t7":90.8,"t8":91.8,"t9":92.5,"t10":92.1,"t11":93.0,"t12":93.6,"t13":93.5,"t14":93.9},
{"x":12.75,"t0":85.9,"t1":88.2,"t2":88.8,"t3":88.7,"t4":90.1,"t5":89.8,"t6":90.9,"t7":91.5,"t8":91.2,"t9":92.2,"t10":92.0,"t11":92.9,"t12":92.6,"t13":93.4,"t14":93.5},
{"x":13.25,"t0":86.4,"t1":86.8,"t2":87.4,"t3":88.9,"t4":88.7,"t5":90.0,"t6":89.8,"t7":90.7,"t8":91.5,"t9":91.3,"t10":92.1,"t11":91.9,"t12":92.8,"t13":92.9,"t14":93.2},
{"x":13.75,"t0":86.6,"t1":87.4,"t2":89.3,"t3":89.3,"t4":90.2,"t5":90.9,"t6":90.9,"t7":91.0,"t8":91.9,"t9":92.6,"t10":92.1,"t11":93.0,"t12":93.5,"t13":93.4,"t14":93.8},
{"x":14.25,"t0":85.4,"t1":87.9,"t2":88.6,"t3":88.5,"t4":90.1,"t5":89.8,"t6":91.0,"t7":91.7,"t8":91.5,"t9":92.5,"t10":92.4,"t11":93.3,"t12":93.1,"t13":93.9,"t14":94.0},
{"x":14.75,"t0":87.3,"t1":87.6,"t2":88.1,"t3":89.7,"t4":89.4,"t5":90.6,"t6":90.4,"t7":91.3,"t8":92.0,"t9":91.8,"t10":92.6,"t11":92.4,"t12":93.2,"t13":93.3,"t14":93.6},
{"x":15.25,"t0":86.0,"t1":86.9,"t2":88.9,"t3":88.8,"t4":89.8,"t5":90.6,"t6":90.6,"t7":90.7,"t8":91.7,"t9":92.4,"t10":91.9,"t11":92.8,"t12":93.4,"t13":93.3,"t14":93.7},
{"x":15.75,"t0":86.4,"t1":88.7,"t2":89.3,"t3":89.2,"t4":90.6,"t5":90.3,"t6":91.4,"t7":92.0,"t8":91.7,"t9":92.7,"t10":92.5,"t11":93.4,"t12":93.1,"t13":93.9,"t14":94.0},
{"x":16.25,"t0":87.0,"t1":87.5,"t2":88.1,"t3":89.7,"t4":89.6,"t5":90.8,"t6":90.7,"t7":91.7,"t8":92.5,"t9":92.3,"t10":93.2,"t11":93.0,"t12":93.9,"t13":94.0,"t14":94.3},
{"x":16.75,"t0":86.5,"t1":87.3,"t2":89.2,"t3":89.2,"t4":90.1,"t5":90.8,"t6":90.8,"t7":90.9,"t8":91.8,"t9":92.5,"t10":92.0,"t11":92.9,"t12":93.4,"t13":93.3,"t14":93.7},
{"x":17.25,"t0":85.8,"t1":88.2,"t2":88.9,"t3":88.7,"t4":90.2,"t5":90.0,"t6":91.1,"t7":91.7,"t8":91.5,"t9":92.5,"t10":92.3,"t11":93.2,"t12":93.0,"t13":93.8,"t14":93.9},
{"x":17.75,"t0":88.1,"t1":88.4,"t2":88.9,"t3":90.5,"t4":90.2,"t5":91.4,"t6":91.2,"t7":92.1,"t8":92.8,"t9":92.6,"t10":93.4,"t11":93.2,"t12":94.0,"t13":94.1,"t14":94.4},
{"x":18.25,"t0":86.1,"t1":87.0,"t2":89.0,"t3":88.9,"t4":89.9,"t5":90.7,"t6":90.7,"t7":90.8,"t8":91.8,"t9":92.5,"t10":92.0,"t11":92.9,"t12":93.5,"t13":93.4,"t14":93.8},
{"x":18.75,"t0":86.6,"t1":88.9,"t2":89.5,"t3":89.4,"t4":90.8,"t5":90.5,"t6":91.6,"t7":92.2,"t8":91.9,"t9":92.9,"t10":92.7,"t11":93.6,"t12":93.3,"t13":94.1,"t14":94.2},
{"x":19.25,"t0":87.2,"t1":87.6,"t2":88.2,"t3":89.7,"t4":89.5,"t5":90.8,"t6":90.6,"t7":91.5,"t8":92.3,"t9":92.1,"t10":92.9,"t11":92.7,"t12":93.6,"t13":93.7,"t14":94.0},
{"x":19.75,"t0":87.3,"t1":88.0,"t2":89.9,"t3":89.8,"t4":90.7,"t5":91.3,"t6":91.3,"t7":91.4,"t8":92.3,"t9":92.9,"t10":92.4,"t11":93.3,"t12":93.8,"t13":93.6,"t14":94.0},
{"x":20.25,"t0":86.3,"t1":88.6,"t2":89.2,"t3":89.1,"t4":90.5,"t5":90.2,"t6":91.3,"t7":91.9,"t8":91.6,"t9":92.6,"t10":92.4,"t11":93.3,"t12":93.0,"t13":93.8,"t14":93.9},
{"x":20.75,"t0":87.0,"t1":87.3,"t2":87.8,"t3":89.4,"t4":89.1,"t5":90.3,"t6":90.1,"t7":91.0,"t8":91.7,"t9":91.5,"t10":92.3,"t11":92.1,"t12":92.9,"t13":93.0,"t14":93.3},
{"x":21.25,"t0":86.1,"t1":87.0,"t2":89.0,"t3":88.9,"t4":89.9,"t5":90.7,"t6":90.7,"t7":90.8,"t8":91.8,"t9":92.5,"t10":92.0,"t11":92.9,"t12":93.5,"t13":93.4,"t14":93.8},
{"x":21.75,"t0":86.2,"t1":88.4,"t2":89.0,"t3":88.8,"t4":90.2,"t5":89.8,"t6":90.9,"t7":91.5,"t8":91.2,"t9":92.1,"t10":91.9,"t11":92.8,"t12":92.5,"t13":93.2,"t14":93.3},
{"x":22.15,"t0":85.9,"t1":86.2,"t2":86.7,"t3":88.3,"t4":88.0,"t5":89.2,"t6":89.0,"t7":89.9,"t8":90.6,"t9":90.4,"t10":91.2,"t11":91.0,"t12":91.8,"t13":91.9,"t14":92.2},
{"x":22.8,"t0":86.4,"t1":87.1,"t2":89.0,"t3":88.9,"t4":89.8,"t5":90.4,"t6":90.4,"t7":90.5,"t8":91.4,"t9":92.0,"t10":91.5,"t11":92.4,"t12":92.9,"t13":92.7,"t14":93.1},
{"x":23.25,"t0":86.1,"t1":88.4,"t2":89.0,"t3":88.9,"t4":90.3,"t5":90.0,"t6":91.1,"t7":91.7,"t8":91.4,"t9":92.4,"t10":92.2,"t11":93.1,"t12":92.8,"t13":93.6,"t14":93.7},
{"x":23.75,"t0":88.0,"t1":88.1,"t2":88.5,"t3":90.0,"t4":89.7,"t5":90.8,"t6":90.5,"t7":91.4,"t8":92.0,"t9":91.7,"t10":92.5,"t11":92.2,"t12":93.0,"t13":93.0,"t14":93.3},
{"x":24.25,"t0":86.3,"t1":87.2,"t2":89.2,"t3":89.1,"t4":90.1,"t5":90.9,"t6":90.9,"t7":91.0,"t8":92.0,"t9":92.7,"t10":92.2,"t11":93.1,"t12":93.7,"t13":93.6,"t14":94.0},
{"x":24.75,"t0":87.0,"t1":89.1,"t2":89.6,"t3":89.4,"t4":90.8,"t5":90.4,"t6":91.4,"t7":92.0,"t8":91.6,"t9":92.5,"t10":92.3,"t11":93.1,"t12":92.8,"t13":93.5,"t14":93.6},
{"x":25.25,"t0":88.2,"t1":88.4,"t2":88.9,"t3":90.4,"t4":90.1,"t5":91.2,"t6":91.0,"t7":91.9,"t8":92.6,"t9":92.3,"t10":93.1,"t11":92.9,"t12":93.7,"t13":93.7,"t14":94.0},
{"x":25.75,"t0":87.0,"t1":87.7,"t2":89.6,"t3":89.5,"t4":90.4,"t5":91.0,"t6":91.0,"t7":91.1,"t8":92.0,"t9":92.6,"t10":92.1,"t11":93.0,"t12":93.5,"t13":93.3,"t14":93.7},
{"x":26.25,"t0":87.4,"t1":89.4,"t2":89.9,"t3":89.6,"t4":90.9,"t5":90.5,"t6":91.5,"t7":92.0,"t8":91.7,"t9":92.5,"t10":92.3,"t11":93.1,"t12":92.8,"t13":93.4,"t14":93.5},
{"x":26.75,"t0":88.6,"t1":88.4,"t2":89.2,"t3":90.4,"t4":90.1,"t5":91.4,"t6":91.0,"t7":91.9,"t8":92.6,"t9":92.3,"t10":93.1,"t11":92.9,"t12":93.7,"t13":93.7,"t14":94.0},
{"x":27.25,"t0":88.1,"t1":88.6,"t2":90.4,"t3":90.2,"t4":91.0,"t5":91.6,"t6":91.5,"t7":91.5,"t8":92.4,"t9":92.9,"t10":92.4,"t11":93.2,"t12":93.7,"t13":93.4,"t14":93.8},
{"x":27.75,"t0":87.0,"t1":89.2,"t2":89.8,"t3":89.6,"t4":91.0,"t5":90.6,"t6":91.7,"t7":92.3,"t8":92.0,"t9":92.9,"t10":92.7,"t11":93.6,"t12":93.3,"t13":94.0,"t14":94.1},
{"x":28.25,"t0":88.6,"t1":88.6,"t2":89.0,"t3":90.4,"t4":90.0,"t5":91.1,"t6":90.8,"t7":91.6,"t8":92.3,"t9":91.9,"t10":92.7,"t11":92.4,"t12":93.2,"t13":93.1,"t14":93.4},
{"x":28.75,"t0":87.8,"t1":88.4,"t2":90.2,"t3":90.1,"t4":91.0,"t5":91.6,"t6":91.5,"t7":91.6,"t8":92.4,"t9":93.0,"t10":92.5,"t11":93.3,"t12":93.8,"t13":93.6,"t14":94.0},
{"x":29.25,"t0":87.0,"t1":89.1,"t2":89.6,"t3":89.4,"t4":90.8,"t5":90.4,"t6":91.4,"t7":92.0,"t8":91.6,"t9":92.5,"t10":92.3,"t11":93.1,"t12":92.8,"t13":93.5,"t14":93.6},
{"x":29.75,"t0":88.9,"t1":89.0,"t2":89.4,"t3":90.9,"t4":90.6,"t5":91.7,"t6":91.4,"t7":92.3,"t8":92.9,"t9":92.6,"t10":93.4,"t11":93.1,"t12":93.9,"t13":93.9,"t14":94.2},
{"x":30.25,"t0":87.3,"t1":87.9,"t2":89.7,"t3":89.6,"t4":90.5,"t5":91.1,"t6":91.0,"t7":91.1,"t8":91.9,"t9":92.5,"t10":92.0,"t11":92.8,"t12":93.3,"t13":93.1,"t14":93.5},
{"x":30.75,"t0":87.8,"t1":89.8,"t2":90.3,"t3":90.0,"t4":91.3,"t5":90.9,"t6":91.9,"t7":92.4,"t8":92.1,"t9":92.9,"t10":92.7,"t11":93.5,"t12":93.2,"t13":93.8,"t14":93.9},
{"x":31.25,"t0":88.7,"t1":88.7,"t2":89.1,"t3":90.5,"t4":90.1,"t5":91.2,"t6":90.9,"t7":91.7,"t8":92.4,"t9":92.0,"t10":92.8,"t11":92.5,"t12":93.3,"t13":93.2,"t14":93.5},
{"x":31.75,"t0":87.9,"t1":88.5,"t2":90.3,"t3":90.2,"t4":91.1,"t5":91.7,"t6":91.6,"t7":91.7,"t8":92.5,"t9":93.1,"t10":92.6,"t11":93.4,"t12":93.9,"t13":93.7,"t14":94.1},
{"x":32.25,"t0":87.7,"t1":89.7,"t2":90.2,"t3":89.9,"t4":91.2,"t5":90.8,"t6":91.8,"t7":92.3,"t8":92.0,"t9":92.8,"t10":92.6,"t11":93.4,"t12":93.1,"t13":93.7,"t14":93.8},
{"x":32.75,"t0":88.7,"t1":88.8,"t2":89.2,"t3":90.7,"t4":90.4,"t5":91.5,"t6":91.2,"t7":92.1,"t8":92.7,"t9":92.4,"t10":93.2,"t11":92.9,"t12":93.7,"t13":93.7,"t14":94.0},
{"x":33.25,"t0":87.8,"t1":88.3,"t2":90.1,"t3":89.9,"t4":90.7,"t5":91.3,"t6":91.2,"t7":91.2,"t8":92.1,"t9":92.6,"t10":92.1,"t11":92.9,"t12":93.4,"t13":93.1,"t14":93.5},
{"x":33.75,"t0":87.3,"t1":89.4,"t2":89.9,"t3":89.7,"t4":91.1,"t5":90.7,"t6":91.7,"t7":92.3,"t8":91.9,"t9":92.8,"t10":92.6,"t11":93.4,"t12":93.1,"t13":93.8,"t14":93.9},
{"x":34.15,"t0":87.7,"t1":87.7,"t2":88.1,"t3":89.5,"t4":89.1,"t5":90.2,"t6":89.9,"t7":90.7,"t8":91.4,"t9":91.0,"t10":91.8,"t11":91.5,"t12":92.3,"t13":92.2,"t14":92.5},
{"x":34.45,"t0":87.1,"t1":87.6,"t2":89.4,"t3":89.2,"t4":90.0,"t5":90.6,"t6":90.5,"t7":90.5,"t8":91.4,"t9":91.9,"t10":91.4,"t11":92.2,"t12":92.7,"t13":92.4,"t14":92.8},
{"x":34.8,"t0":87.8,"t1":89.8,"t2":90.3,"t3":90.0,"t4":91.3,"t5":90.9,"t6":91.9,"t7":92.4,"t8":92.1,"t9":92.9,"t10":92.7,"t11":93.5,"t12":93.2,"t13":93.8,"t14":93.9},
{"x":35.25,"t0":89.0,"t1":89.0,"t2":89.4,"t3":90.8,"t4":90.4,"t5":91.5,"t6":91.2,"t7":92.0,"t8":92.7,"t9":92.3,"t10":93.1,"t11":92.8,"t12":93.6,"t13":93.5,"t14":93.8},
{"x":35.75,"t0":88.4,"t1":88.9,"t2":90.7,"t3":90.5,"t4":91.3,"t5":91.9,"t6":91.8,"t7":91.8,"t8":92.7,"t9":93.2,"t10":92.7,"t11":93.5,"t12":94.0,"t13":93.7,"t14":94.1},
{"x":36.25,"t0":87.7,"t1":89.8,"t2":90.3,"t3":90.1,"t4":91.5,"t5":91.1,"t6":92.1,"t7":92.7,"t8":92.3,"t9":93.2,"t10":93.0,"t11":93.8,"t12":93.5,"t13":94.2,"t14":94.3},
{"x":36.75,"t0":89.6,"t1":89.5,"t2":89.8,"t3":91.2,"t4":90.8,"t5":91.8,"t6":91.5,"t7":92.3,"t8":92.9,"t9":92.5,"t10":93.3,"t11":92.9,"t12":93.7,"t13":93.6,"t14":93.9},
{"x":37.25,"t0":88.7,"t1":89.2,"t2":91.0,"t3":90.8,"t4":91.6,"t5":92.2,"t6":92.1,"t7":92.1,"t8":93.0,"t9":93.5,"t10":93.0,"t11":93.8,"t12":94.3,"t13":94.0,"t14":94.4},
{"x":37.75,"t0":88.1,"t1":90.0,"t2":90.4,"t3":90.1,"t4":91.4,"t5":90.9,"t6":91.9,"t7":92.4,"t8":92.0,"t9":92.8,"t10":92.6,"t11":93.3,"t12":93.0,"t13":93.6,"t14":93.7},
{"x":38.25,"t0":89.9,"t1":89.8,"t2":90.1,"t3":91.5,"t4":91.1,"t5":92.1,"t6":91.8,"t7":92.6,"t8":93.2,"t9":92.8,"t10":93.6,"t11":93.2,"t12":94.0,"t13":93.9,"t14":94.2},
{"x":38.75,"t0":87.9,"t1":88.4,"t2":90.2,"t3":90.0,"t4":90.8,"t5":91.4,"t6":91.3,"t7":91.3,"t8":92.2,"t9":92.7,"t10":92.2,"t11":93.0,"t12":93.5,"t13":93.2,"t14":93.6},
{"x":39.25,"t0":88.5,"t1":90.4,"t2":90.8,"t3":90.5,"t4":91.8,"t5":91.3,"t6":92.3,"t7":92.8,"t8":92.4,"t9":93.2,"t10":93.0,"t11":93.7,"t12":93.4,"t13":94.0,"t14":94.1},
{"x":39.75,"t0":89.2,"t1":89.1,"t2":89.4,"t3":90.8,"t4":90.4,"t5":91.4,"t6":91.1,"t7":91.9,"t8":92.5,"t9":92.1,"t10":92.9,"t11":92.5,"t12":93.3,"t13":93.2,"t14":93.5},
{"x":40.25,"t0":87.7,"t1":88.3,"t2":90.1,"t3":90.0,"t4":90.9,"t5":91.5,"t6":91.4,"t7":91.5,"t8":92.3,"t9":92.9,"t10":92.4,"t11":93.2,"t12":93.7,"t13":93.5,"t14":93.9},
{"x":40.75,"t0":88.3,"t1":90.2,"t2":90.5,"t3":90.1,"t4":91.4,"t5":90.9,"t6":91.8,"t7":92.3,"t8":91.8,"t9":92.7,"t10":92.4,"t11":93.1,"t12":92.7,"t13":93.4,"t14":93.4}
],
"legend": [
{"series":"t0","label":"00h:00m:00s"},
{"series":"t1","label":"00h:01m:00s"},
{"series":"t2","label":"00h:02m:00s"},
{"series":"t3","label":"00h:03m:00s"},
{"series":"t4","label":"00h:04m:00s"},
{"series":"t5","label":"00h:05m:00s"},
{"series":"t6","label":"00h:06m:00s"},
{"series":"t7","label":"00h:07m:00s"},
{"series":"t8","label":"00h:08m:00s"},
{"series":"t9","label":"00h:09m:00s"},
{"series":"t10","label":"00h:10m:00s"},
{"series":"t11","label":"00h:11m:00s"},
{"series":"t12","label":"00h:12m:00s"},
{"series":"t13","label":"00h:13m:00s"},
{"series":"t14","label":"00h:14m:00s"}
]
},
"hconcat": [
{
  "width": 1049,
  "height": 437,
  "data": {"name": "curves"},
  "transform": [{"fold": ["t0","t1","t2","t3","t4","t5","t6","t7","t8","t9","t10","t11","t12","t13","t14"], "as": ["series", "T"]}],
  "mark": {"type": "line", "strokeWidth": 1, "clip": true, "opacity": 0.9},
  "encoding": {
    "x": {"field": "x", "type": "quantitative",
      "scale": {"domain": [-1.115, 46.23], "nice": false, "zero": false},
      "axis": {"title": "Height (mm)", "titleFontSize": 32, "titlePadding": 22, "format": "d",
        "values": [-1,-0.5,0,0.5,1,1.5,2,2.5,3,3.5,4,4.5,5,5.5,6,6.5,7,7.5,8,8.5,9,9.5,10,10.5,11,11.5,12,12.5,13,13.5,14,14.5,15,15.5,16,16.5,17,17.5,18,18.5,19,19.5,20,20.5,21,21.5,22,22.5,23,23.5,24,24.5,25,25.5,26,26.5,27,27.5,28,28.5,29,29.5,30,30.5,31,31.5,32,32.5,33,33.5,34,34.5,35,35.5,36,36.5,37,37.5,38,38.5,39,39.5,40,40.5,41,41.5,42,42.5,43,43.5,44,44.5,45,45.5,46],
        "labelExpr": "datum.value % 2 === 0 ? datum.label : ''",
        "gridOpacity": {"condition": {"test": "datum.value % 1 !== 0", "value": 0}, "value": 1},
        "tickSize": 4, "labelPadding": 3, "minExtent": 16, "maxExtent": 16, "labelOverlap": false, "labelFlush": false}},
    "y": {"field": "T", "type": "quantitative",
      "scale": {"domain": [-2.66, 107.97], "nice": false, "zero": false},
      "axis": {"title": "T (%)", "titleFontSize": 40, "titlePadding": 2,
        "values": [0,5,10,15,20,25,30,35,40,45,50,55,60,65,70,75,80,85,90,95,100,105],
        "labelExpr": "datum.value % 10 === 0 ? datum.label : ''",
        "tickSize": 4, "labelPadding": 3, "minExtent": 24, "maxExtent": 24, "labelOverlap": false}},
    "color": {"field": "series", "type": "nominal",
      "scale": {"domain": ["t0","t1","t2","t3","t4","t5","t6","t7","t8","t9","t10","t11","t12","t13","t14"],
        "range": ["#0000ff","#0a40f5","#0a82f0","#00c8f8","#00f0e0","#00eea8","#00ee70","#10ee20","#40e830","#78f020","#c8f000","#ffd000","#ff9000","#ff5000","#ff0000"]},
      "legend": null}
  }
},
{
  "width": 15,
  "height": 437,
  "data": {"name": "legend"},
  "mark": {"type": "rect"},
  "view": {"stroke": null},
  "encoding": {
    "y": {"field": "label", "type": "ordinal", "sort": null,
      "scale": {"paddingInner": 0, "paddingOuter": 0.57},
      "axis": {"title": null, "orient": "left", "ticks": false, "domain": false, "grid": false, "labelFontSize": 9, "labelPadding": 8, "labelColor": "#555555", "minExtent": 61, "maxExtent": 61}},
    "color": {"field": "series", "type": "nominal",
      "scale": {"domain": ["t0","t1","t2","t3","t4","t5","t6","t7","t8","t9","t10","t11","t12","t13","t14"],
        "range": ["#0000ff","#0a40f5","#0a82f0","#00c8f8","#00f0e0","#00eea8","#00ee70","#10ee20","#40e830","#78f020","#c8f000","#ffd000","#ff9000","#ff5000","#ff0000"]},
      "legend": null}
  }
}
],
"resolve": {"scale": {"color": "shared"}}
}
